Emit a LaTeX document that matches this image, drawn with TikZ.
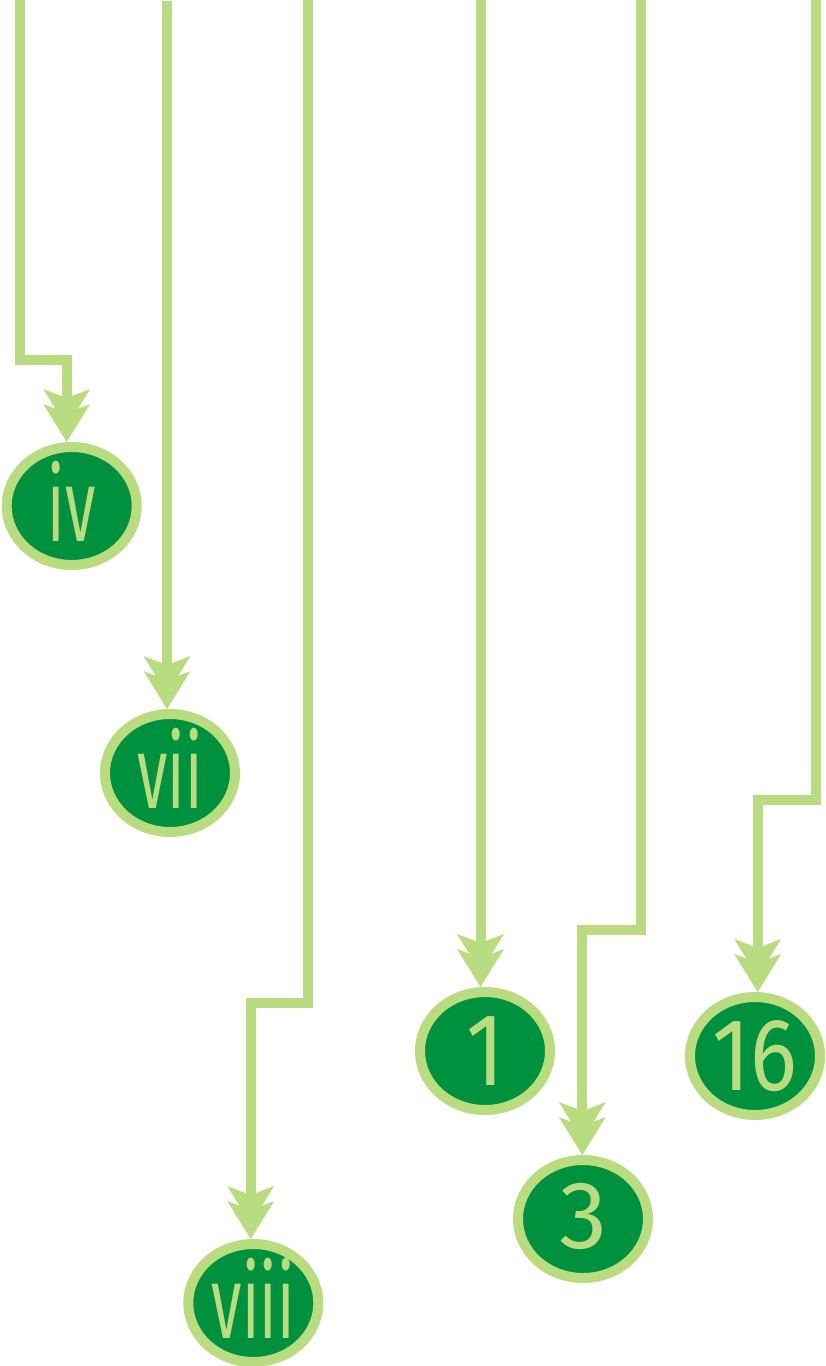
\documentclass[tikz,border=0pt]{standalone}
\usepackage{fontspec}
\usepackage{graphicx}
\setsansfont{Fira Sans}
\usetikzlibrary{arrows.meta,shapes.geometric}
\definecolor{leaf}{RGB}{186,220,128}
\definecolor{forest}{RGB}{0,145,62}
% horizontally condensed label text, lifted by #2
\newcommand{\squeeze}[3]{\raisebox{#2}{\scalebox{#1}[1]{#3}}}
\begin{document}
\begin{tikzpicture}[x=1pt,y=-1pt,
  badge/.style={ellipse, draw=leaf, line width=10pt, fill=forest,
    minimum width=130pt, minimum height=118pt, inner sep=0pt},
  numeral/.style={text=leaf, inner sep=0pt,
    font=\sffamily\fontsize{103}{103}\selectfont},
  feed/.style={draw=leaf, line width=10pt,
    -{Stealth[length=38pt,width=47pt,inset=9pt,line width=0pt,sep=-23pt]
      Stealth[length=38pt,width=47pt,inset=9pt,line width=0pt]}}
]
\useasboundingbox (0,0) rectangle (825,1366);

% numbered badges
\node[badge, label={[numeral]center:\squeeze{0.6}{9pt}{iv}}]   (iv)   at (71.7,506)   {};
\node[badge, label={[numeral]center:\squeeze{0.6}{9pt}{vii}}]  (vii)  at (170,773)    {};
\node[badge, label={[numeral]center:\squeeze{0.6}{9pt}{viii}}] (viii) at (253.3,1303) {};
\node[badge, label={[numeral]center:\squeeze{0.85}{0pt}{1}}]   (one)  at (485,1051)   {};
\node[badge, label={[numeral, font=\sffamily\fontsize{96}{96}\selectfont]center:\squeeze{1.0}{6pt}{3}}]
  (three) at (583,1219) {};
\node[badge, label={[numeral]center:\squeeze{0.85}{0pt}{16}}]  (sixteen) at (755,1056) {};

% entry points along the top edge and the bends
\coordinate (t1) at (20,0);    \coordinate (b1) at (20,360);   \coordinate (c1) at (66.7,360);
\coordinate (t2) at (167,1);
\coordinate (t3) at (308.3,0); \coordinate (b3) at (308.3,1002.7); \coordinate (c3) at (250.7,1002.7);
\coordinate (t4) at (480.5,0);
\coordinate (t5) at (641,0);   \coordinate (b5) at (641,930);  \coordinate (c5) at (582.3,930);
\coordinate (t6) at (815.7,0); \coordinate (b6) at (815.7,800); \coordinate (c6) at (757.7,800);

% feed lines
\draw[feed] (t1) -- (b1) -- (c1) -- (iv.north -| c1);
\draw[feed] (t2) -- (vii.north -| t2);
\draw[feed] (t3) -- (b3) -- (c3) -- (viii.north -| c3);
\draw[feed] (t4) -- (one.north -| t4);
\draw[feed] (t5) -- (b5) -- (c5) -- (three.north -| c5);
\draw[feed] (t6) -- (b6) -- (c6) -- (sixteen.north -| c6);
\end{tikzpicture}
\end{document}
